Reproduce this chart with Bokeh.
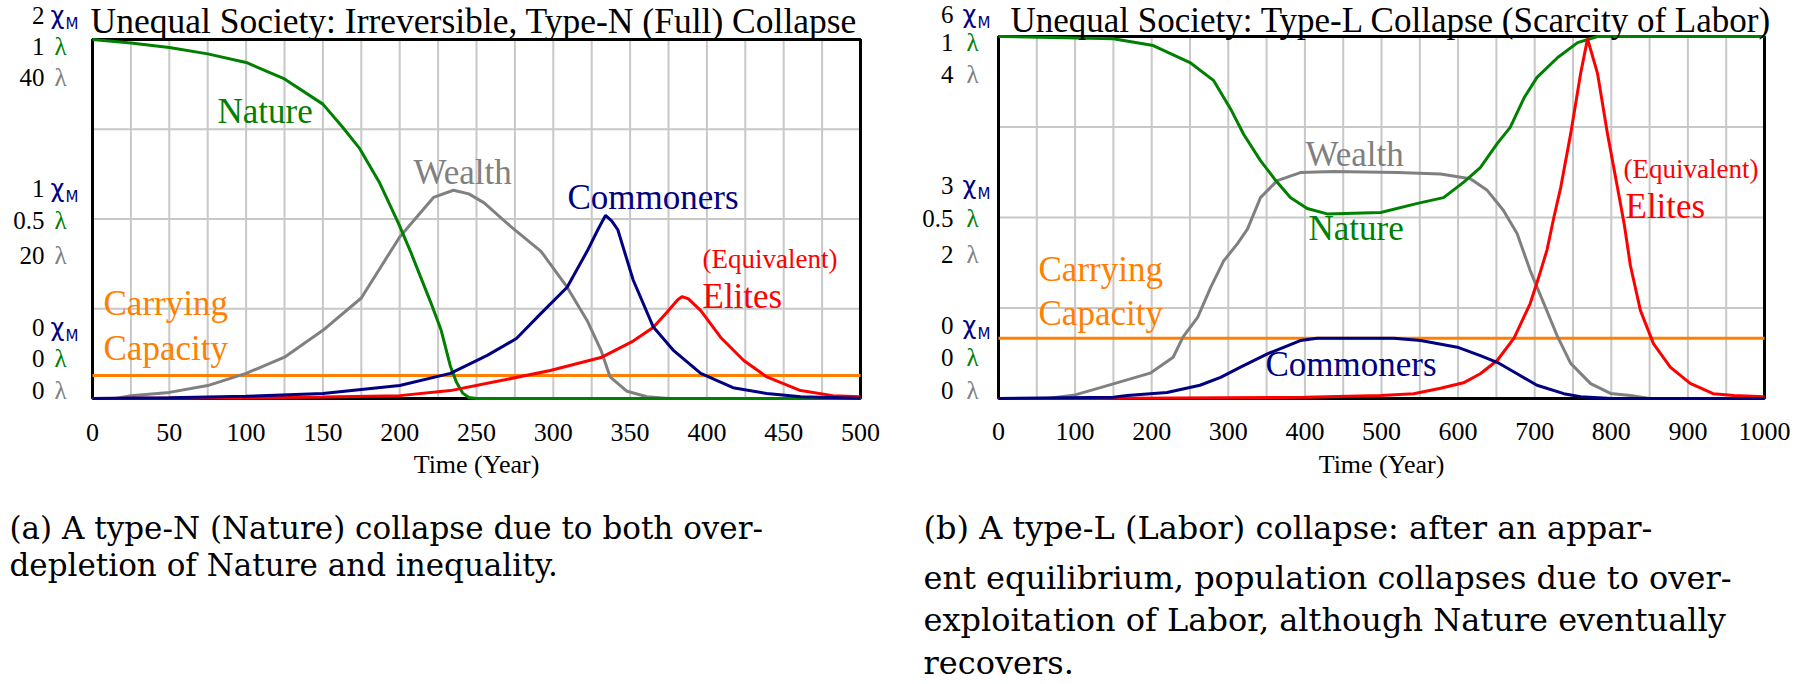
from bokeh.plotting import figure
from bokeh.models import Range1d, Label
from bokeh.core.properties import value
from bokeh.layouts import row
from bokeh.embed import file_html
from bokeh.resources import INLINE

# ---------------- Panel (a): type-N collapse ----------------
years_nature_a = [0, 25, 50, 75, 100, 125, 150, 163, 174, 187, 199, 207, 213, 220, 227, 233, 237, 241, 245, 250, 500]
nature_a = [1.0, 0.99, 0.978, 0.96, 0.936, 0.89, 0.82, 0.755, 0.696, 0.60, 0.49, 0.41, 0.345, 0.27, 0.19, 0.09, 0.045, 0.015, 0.003, 0.0, 0.0]

years_wealth_a = [0, 15, 25, 50, 75, 100, 125, 150, 175, 200, 210, 222, 235, 245, 255, 272, 292, 309, 322, 331, 337, 348, 361, 375, 500]
wealth_a = [0, 0, 0.3, 0.68, 1.44, 2.8, 4.6, 7.6, 11.2, 18.0, 20.0, 22.4, 23.2, 22.8, 21.8, 19.2, 16.4, 12.4, 8.7, 5.4, 2.4, 0.8, 0.2, 0, 0]

years_comm_a = [0, 50, 100, 150, 200, 233, 257, 276, 292, 309, 322, 329, 334, 338, 342, 352, 365, 378, 396, 417, 439, 461, 500]
comm_a = [0.0, 0.004, 0.012, 0.028, 0.072, 0.14, 0.24, 0.334, 0.474, 0.62, 0.82, 0.94, 1.02, 0.99, 0.94, 0.66, 0.40, 0.27, 0.14, 0.06, 0.028, 0.01, 0.002]

years_elite_a = [0, 100, 150, 200, 233, 266, 298, 331, 352, 365, 374, 381, 384, 388, 396, 409, 424, 439, 461, 482, 500]
elite_a = [0.0, 0.004, 0.008, 0.016, 0.044, 0.1, 0.156, 0.228, 0.32, 0.396, 0.48, 0.55, 0.568, 0.555, 0.49, 0.34, 0.212, 0.12, 0.044, 0.016, 0.01]

years_cc_a = [0, 500]
cc_a = [0.128, 0.128]

scale_a = {"nat": 1, "chi": 2, "wealth": 40}
xticks_a = [0, 50, 100, 150, 200, 250, 300, 350, 400, 450, 500]
xgrid_a = [25, 50, 75, 100, 125, 150, 175, 200, 225, 250, 275, 300, 325, 350, 375, 400, 425, 450, 475]
ygrid_frac = [0.25, 0.5, 0.75]
ynum_a = ["2", "1", "40", "1", "0.5", "20", "0", "0", "0"]
yunit_a = ["chi", "nat", "wealth", "chi", "nat", "wealth", "chi", "nat", "wealth"]
title_a = "Unequal Society: Irreversible, Type-N (Full) Collapse"
caption_a = ["(a) A type-N (Nature) collapse due to both over-",
             "depletion of Nature and inequality."]

# ---------------- Panel (b): type-L collapse ----------------
years_nature_b = [0, 150, 202, 250, 281, 303, 320, 342, 362, 381, 403, 429, 499, 547, 581, 607, 629, 651, 668, 686, 703, 730, 756, 782, 1000]
nature_b = [1.0, 0.994, 0.975, 0.928, 0.878, 0.80, 0.73, 0.657, 0.602, 0.555, 0.525, 0.51, 0.514, 0.539, 0.555, 0.597, 0.638, 0.704, 0.749, 0.83, 0.887, 0.942, 0.983, 1.0, 1.0]

years_wealth_b = [0, 64, 100, 133, 198, 228, 241, 260, 277, 294, 312, 325, 342, 364, 394, 437, 521, 577, 616, 638, 659, 677, 694, 712, 730, 747, 773, 799, 825, 850, 1000]
wealth_b = [0, 0, 0.04, 0.12, 0.28, 0.456, 0.68, 0.896, 1.228, 1.52, 1.712, 1.872, 2.22, 2.408, 2.496, 2.508, 2.496, 2.48, 2.428, 2.3, 2.08, 1.824, 1.416, 1.048, 0.68, 0.388, 0.164, 0.056, 0.032, 0, 0]

years_comm_b = [0, 150, 168, 220, 263, 290, 316, 351, 394, 416, 460, 516, 551, 599, 629, 651, 677, 703, 738, 760, 800, 1000]
comm_b = [0, 0.02, 0.05, 0.1, 0.22, 0.35, 0.52, 0.74, 0.96, 1.0, 1.0, 1.0, 0.96, 0.85, 0.71, 0.6, 0.41, 0.22, 0.08, 0.03, 0.0, 0.0]

years_elite_b = [0, 170, 400, 499, 542, 577, 607, 629, 651, 673, 694, 705, 716, 725, 734, 747, 760, 769, 782, 795, 808, 817, 825, 838, 855, 877, 903, 933, 960, 1000]
elite_b = [0, 0.005, 0.02, 0.05, 0.08, 0.17, 0.26, 0.41, 0.63, 1.0, 1.57, 2.0, 2.46, 3.0, 3.5, 4.39, 5.39, 5.96, 5.39, 4.39, 3.5, 2.88, 2.2, 1.46, 0.91, 0.52, 0.25, 0.08, 0.05, 0.03]

years_cc_b = [0, 1000]
cc_b = [1.0, 1.0]

scale_b = {"nat": 1, "chi": 6, "wealth": 4}
xticks_b = [0, 100, 200, 300, 400, 500, 600, 700, 800, 900, 1000]
xgrid_b = [50, 100, 150, 200, 250, 300, 350, 400, 450, 500, 550, 600, 650, 700, 750, 800, 850, 900, 950]
ynum_b = ["6", "1", "4", "3", "0.5", "2", "0", "0", "0"]
yunit_b = ["chi", "nat", "wealth", "chi", "nat", "wealth", "chi", "nat", "wealth"]
title_b = "Unequal Society: Type-L Collapse (Scarcity of Labor)"
caption_b = ["(b) A type-L (Labor) collapse:  after an appar-",
             "ent equilibrium, population collapses due to over-",
             "exploitation of Labor, although Nature eventually",
             "recovers."]

# ---------------- styling ----------------
C_NAT = "#008000"
C_WEALTH = "#808080"
C_COMM = "#000080"
C_ELITE = "#ff0000"
C_CC = "#ff8000"
C_GRID = "#c8c8c8"
SERIF = "Liberation Serif"
UNIT_COLOR = {"chi": C_COMM, "nat": C_NAT, "wealth": C_WEALTH}


def build(series, scale, xmax, xticks, xgrid, ynum, yunit, title, caption, geo):
    cx0, cy0, cw, ch = geo["canvas"]
    fx0, fy0, fw, fh = geo["frame"]

    def X(px):
        return (px - fx0) / fw * xmax

    def Y(py):
        return (fy0 + fh - py) / fh * scale["nat"]

    ylo, yhi = Y(cy0 + ch), Y(cy0)
    p = figure(width=cw, height=ch,
               x_range=Range1d(X(cx0), X(cx0 + cw)), y_range=Range1d(ylo, yhi),
               min_border=0, x_axis_location=None, y_axis_location=None,
               output_backend="svg", toolbar_location=None, title=None,
               background_fill_color="white", border_fill_color="white")
    p.extra_y_ranges = {
        "chi": Range1d(ylo * scale["chi"] / scale["nat"], yhi * scale["chi"] / scale["nat"]),
        "wealth": Range1d(ylo * scale["wealth"] / scale["nat"], yhi * scale["wealth"] / scale["nat"]),
    }
    p.grid.visible = False
    p.outline_line_color = None

    # grid
    p.segment(x0=xgrid, y0=0, x1=xgrid, y1=scale["nat"], line_color=C_GRID, line_width=2)
    yg = [f * scale["nat"] for f in ygrid_frac]
    p.segment(x0=0, y0=yg, x1=xmax, y1=yg, line_color=C_GRID, line_width=2)
    # plot frame
    p.quad(left=0, right=xmax, bottom=0, top=scale["nat"], fill_color=None,
           line_color="black", line_width=3)

    # curves
    (tc, cc), (tw, w), (tn, n), (te, e), (tm, m) = series
    p.line(tc, cc, color=C_CC, line_width=3, y_range_name="chi")
    p.line(tw, w, color=C_WEALTH, line_width=3, y_range_name="wealth")
    p.line(tn, n, color=C_NAT, line_width=3)
    p.line(te, e, color=C_ELITE, line_width=3, y_range_name="chi")
    p.line(tm, m, color=C_COMM, line_width=3, y_range_name="chi")

    # x tick labels
    p.text(x=xticks, y=Y(geo["xtick_y"]), text=[str(v) for v in xticks],
           text_font=value(SERIF), text_font_size=value("26px"), text_color="black",
           text_align="center", text_baseline="middle")

    def lab(txt, px, py, color="black", size="35px", font=SERIF, align="left"):
        p.add_layout(Label(x=X(px), y=Y(py), text=txt, text_color=color,
                           text_font=font, text_font_size=size,
                           text_align=align, text_baseline="middle"))

    lab("Time (Year)", fx0 + fw / 2, geo["xlabel_y"], size="26px", align="center")

    # title
    tx, ty, tsize = geo["title"]
    lab(title, tx, ty, size=tsize)

    # stacked y labels
    nx, chx, lamx = geo["ylab_x"]
    for num, unit, py in zip(ynum, yunit, geo["ylab_y"]):
        lab(num, nx, py, size="25px", align="right")
        if unit == "chi":
            lab("\u03c7", chx, py, color=C_COMM, size="24px", font="DejaVu Sans")
            lab("M", chx + 15, py + 8, color=C_COMM, size="15px", font="DejaVu Sans")
        else:
            lab("\u03bb", lamx, py, color=UNIT_COLOR[unit], size="25px")

    # in-plot labels
    for txt, color, size, px, py in geo["labels"]:
        lab(txt, px, py, color=color, size=size)

    # caption
    csize, capx, cys = geo["caption"]
    for line, py in zip(caption, cys):
        lab(line, capx, py, size=csize, font="DejaVu Serif")
    return p


geo_a = {
    "canvas": (0, 0, 898, 682),
    "frame": (92, 39, 768, 359),
    "xtick_y": 432,
    "xlabel_y": 464,
    "title": (90, 20, "35.5px"),
    "ylab_x": (44, 50, 54),
    "ylab_y": [15, 46, 77, 188, 220, 255, 327, 358, 390],
    "labels": [("Nature", C_NAT, "35px", 217, 111),
               ("Wealth", C_WEALTH, "35px", 413, 172),
               ("Commoners", C_COMM, "35px", 567, 197),
               ("(Equivalent)", C_ELITE, "27px", 702, 258),
               ("Elites", C_ELITE, "35px", 702, 296),
               ("Carrying", C_CC, "35px", 103, 303),
               ("Capacity", C_CC, "35px", 103, 348)],
    "caption": ("31px", 9, [527, 564]),
}
geo_b = {
    "canvas": (898, 0, 900, 682),
    "frame": (998, 36, 766, 362),
    "xtick_y": 431,
    "xlabel_y": 464,
    "title": (1010, 20, "35px"),
    "ylab_x": (953, 962, 966),
    "ylab_y": [14, 42, 74, 185, 218, 254, 325, 357, 390],
    "labels": [("Wealth", C_WEALTH, "35px", 1305, 154),
               ("Nature", C_NAT, "35px", 1308, 228),
               ("Commoners", C_COMM, "35px", 1265, 364),
               ("(Equivalent)", C_ELITE, "27px", 1623, 168),
               ("Elites", C_ELITE, "35px", 1625, 206),
               ("Carrying", C_CC, "35px", 1038, 269),
               ("Capacity", C_CC, "35px", 1038, 313)],
    "caption": ("32px", 923, [527, 577, 619, 662]),
}

series_a = [(years_cc_a, cc_a), (years_wealth_a, wealth_a), (years_nature_a, nature_a),
            (years_elite_a, elite_a), (years_comm_a, comm_a)]
series_b = [(years_cc_b, cc_b), (years_wealth_b, wealth_b), (years_nature_b, nature_b),
            (years_elite_b, elite_b), (years_comm_b, comm_b)]

pa = build(series_a, scale_a, 500, xticks_a, xgrid_a, ynum_a, yunit_a, title_a, caption_a, geo_a)
pb = build(series_b, scale_b, 1000, xticks_b, xgrid_b, ynum_b, yunit_b, title_b, caption_b, geo_b)

layout = row(pa, pb)
open("out.html", "w").write(file_html(layout, INLINE))
